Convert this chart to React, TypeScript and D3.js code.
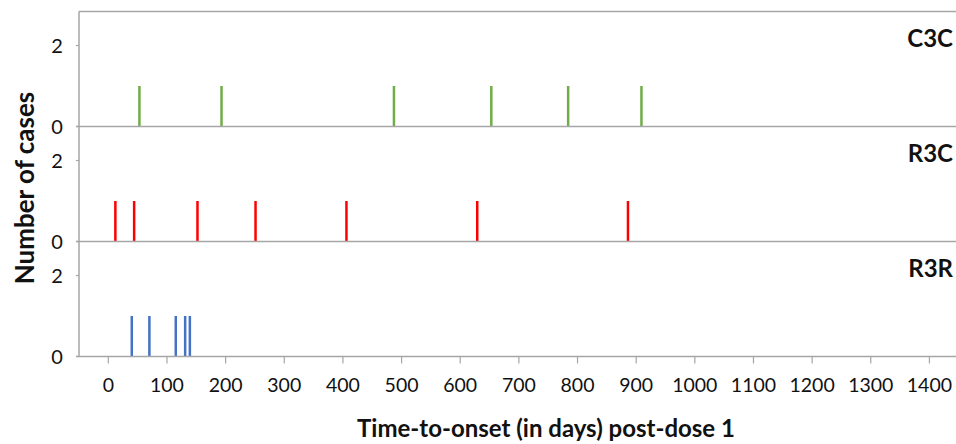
import * as d3 from "d3";

const panelNames = ["C3C", "R3C", "R3R"];
const panelColors = ["#70AD47", "#FF0000", "#4472C4"];
// time-to-onset (days) of each case, one case per line
const c3cDays = [53, 193, 487, 653, 784, 909];
const r3cDays = [12, 44, 152, 251, 406, 629, 886];
const r3rDays = [40, 70, 115, 131, 139];
const xTicks = d3.range(0, 1401, 100);
const yTicks = [0, 2];

const W = 956;
const H = 444;
const left = 79;
const top = 11.5;
const panelH = 115;
const axisColor = "#a6a6a6";
const font = "Lato, 'Open Sans', sans-serif";

export default function App() {
    const x = d3.scaleLinear().domain([-50, 1450]).range([left, left + 1500 * 0.5865]);
    const series = [c3cDays, r3cDays, r3rDays];
    const bottom = top + panelH * 3;

    return <svg width={W} height={H} style={{position: "absolute", left: 0, top: 0, background: "#fff"}}>
        <line x1={left} x2={W} y1={top} y2={top} stroke={axisColor} strokeWidth={1.5}/>
        <line x1={left} x2={left} y1={top} y2={bottom} stroke={axisColor} strokeWidth={1.5}/>
        {series.map((days, p) => {
            const y = d3.scaleLinear().domain([0, 2.84]).range([top + panelH * (p + 1), top + panelH * p]);
            return <g key={p}>
                {days.map((d, i) => (
                    <line key={i} x1={x(d)} x2={x(d)} y1={y(0)} y2={y(1)}
                          stroke={panelColors[p]} strokeWidth={2.5}/>
                ))}
                <line x1={left - 3} x2={W} y1={y(0)} y2={y(0)} stroke={axisColor} strokeWidth={1.5}/>
                {yTicks.map(t => (
                    <g key={t}>
                        <line x1={left - 3} x2={left} y1={y(t)} y2={y(t)} stroke={axisColor} strokeWidth={1.2}/>
                        <text x={57} y={y(t)} dy="0.36em" textAnchor="middle" fontFamily={font}
                              fontSize={20} fill="#111">{t}</text>
                    </g>
                ))}
                <text x={953} y={top + panelH * p + 35} textAnchor="end" fontFamily={font}
                      fontWeight="bold" fontSize={24} fill="#111">{panelNames[p]}</text>
            </g>;
        })}
        {xTicks.map(t => (
            <g key={t}>
                <line x1={x(t)} x2={x(t)} y1={bottom} y2={bottom + 7} stroke={axisColor} strokeWidth={1.2}/>
                <text x={x(t)} y={385} dy="0.36em" textAnchor="middle" fontFamily={font}
                      fontSize={19.5} fill="#111">{t}</text>
            </g>
        ))}
        <text x={546} y={437} textAnchor="middle" fontFamily={font} fontWeight="bold"
              fontSize={24} fill="#111">Time-to-onset (in days) post-dose 1</text>
        <text transform={`translate(34, ${188}) rotate(-90)`} textAnchor="middle" fontFamily={font}
              fontWeight="bold" fontSize={26} fill="#111">Number of cases</text>
    </svg>;
}
